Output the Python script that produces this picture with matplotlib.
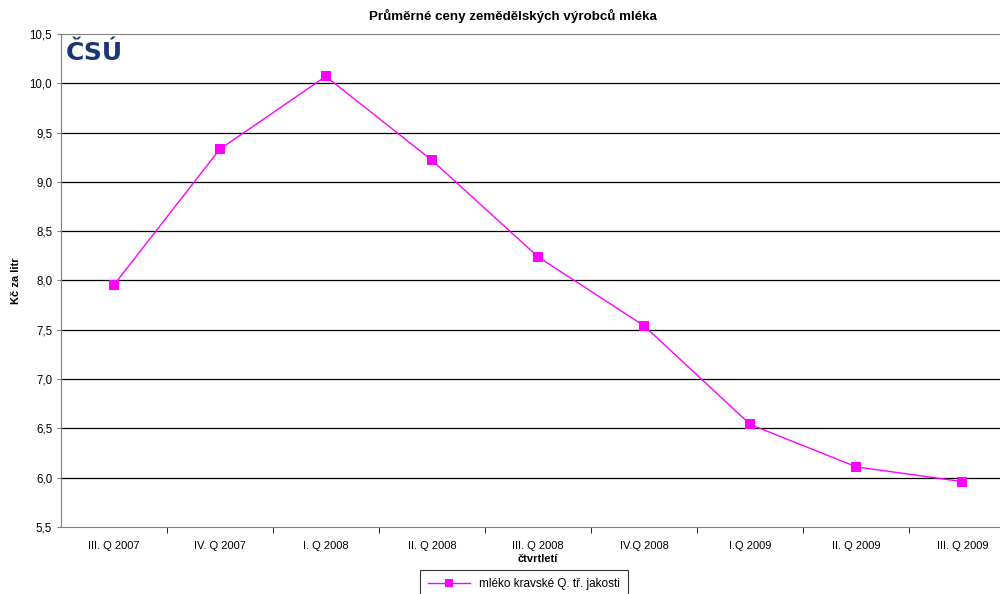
import matplotlib.pyplot as plt
from matplotlib.ticker import MultipleLocator, FuncFormatter

plt.rcParams['font.family'] = ['Liberation Sans', 'DejaVu Sans']

quarters = ['III. Q 2007', 'IV. Q 2007', 'I. Q 2008', 'II. Q 2008', 'III. Q 2008',
            'IV.Q 2008', 'I.Q 2009', 'II. Q 2009', 'III. Q 2009']
prices = [7.95, 9.33, 10.07, 9.22, 8.24, 7.54, 6.54, 6.11, 5.96]
series_name = 'mléko kravské Q. tř. jakosti'

fig = plt.figure(figsize=(10, 5.94), dpi=100)
# plot area runs past the right edge of the picture, as in the original
ax = fig.add_axes([0.0605, 0.1128, 0.955, 0.83])

x = range(len(quarters))
ax.plot(x, prices, color='#ff00ff', lw=1, marker='s', markersize=6.5,
        markeredgewidth=0, label=series_name)

ax.set_xlim(-0.5, len(quarters) - 0.5)
ax.set_ylim(5.5, 10.5)
ax.yaxis.set_major_locator(MultipleLocator(0.5))
ax.yaxis.set_major_formatter(FuncFormatter(lambda v, p: f'{v:.1f}'.replace('.', ',')))
ax.grid(axis='y', color='black', lw=0.9)
ax.set_axisbelow(True)

ax.set_xticks(list(x))
ax.set_xticklabels(quarters)
ax.set_xticks([i + 0.5 for i in range(len(quarters) - 1)], minor=True)
ax.tick_params(axis='x', which='major', length=0, pad=10, labelsize=8)
ax.tick_params(axis='x', which='minor', length=4, color='black', direction='out')
ax.tick_params(axis='y', length=3, color='#808080', labelsize=8.3, pad=3)

ax.spines['right'].set_visible(False)
for side in ['left', 'bottom', 'top']:
    ax.spines[side].set_color('#808080')

fig.canvas.draw()
for gl, val in zip(ax.get_ygridlines(), ax.get_yticks()):
    if val >= 10.5 or val <= 5.5:
        gl.set_visible(False)

ax.set_xlabel('čtvrtletí', fontsize=8, fontweight='bold', labelpad=2)
ax.set_ylabel('Kč za litr', fontsize=8, fontweight='bold', labelpad=6)
fig.suptitle('Průměrné ceny zemědělských výrobců mléka', x=0.513, y=0.985,
             fontsize=9.6, fontweight='bold')

# ČSÚ logo
ax.text(0.005, 0.985, 'ČSÚ', transform=ax.transAxes, ha='left', va='top',
        fontsize=18, fontweight='heavy', color='#1b3472', family='DejaVu Sans')

leg = fig.legend(loc='upper center', bbox_to_anchor=(0.524, 0.0404), fontsize=8.5,
                 frameon=True, fancybox=False, edgecolor='black', borderpad=0.7,
                 borderaxespad=0, handlelength=3.5, markerscale=0.8)
leg.get_frame().set_linewidth(0.8)

fig.savefig('out.png', dpi=100)
